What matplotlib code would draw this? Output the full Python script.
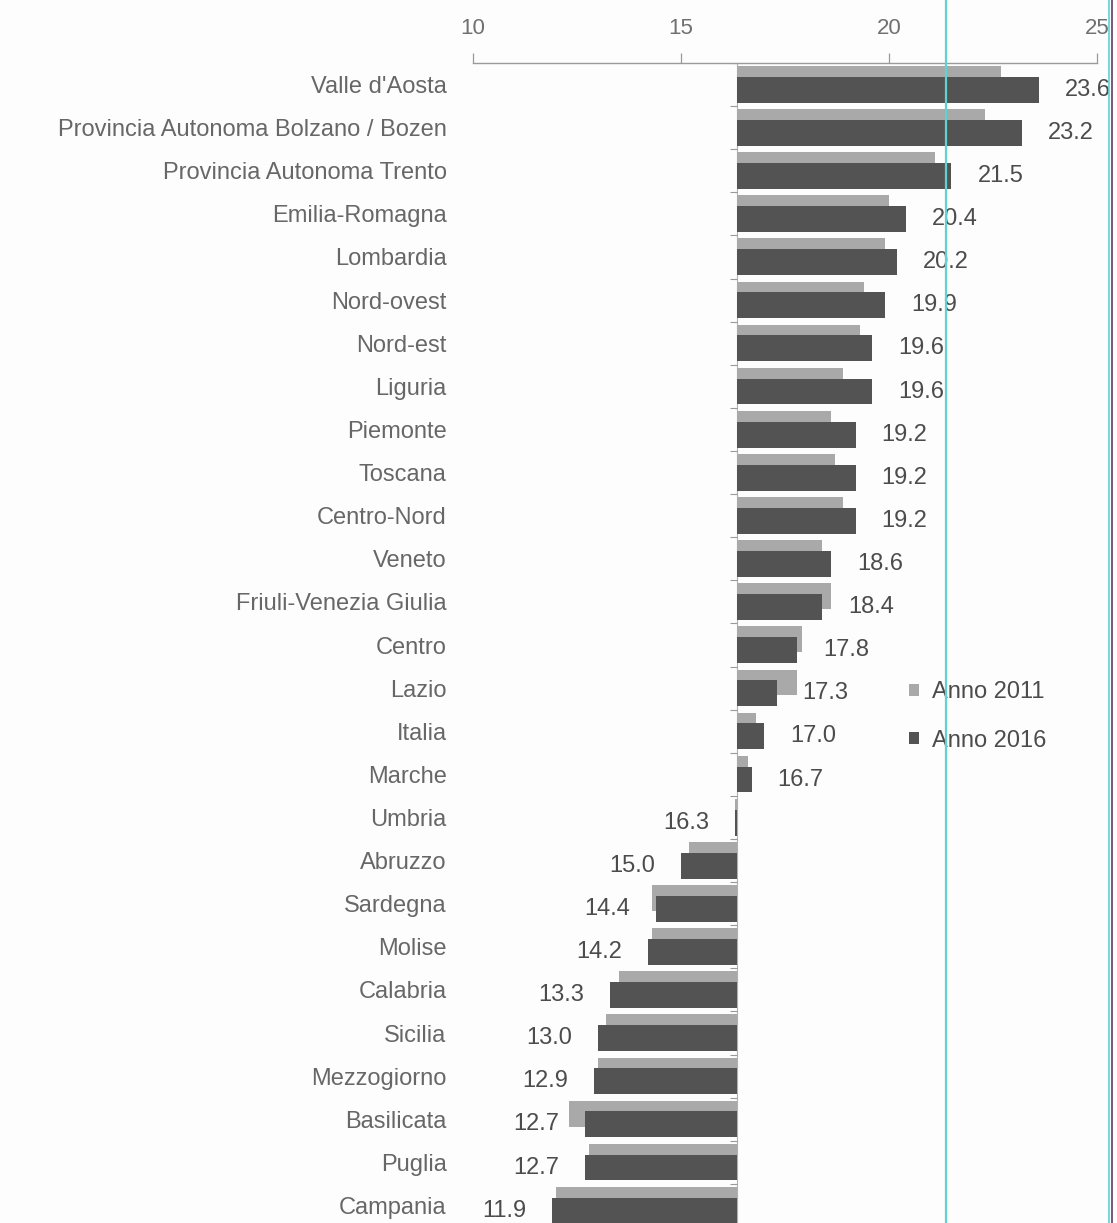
import matplotlib
matplotlib.use("Agg")
import matplotlib.pyplot as plt
from matplotlib.patches import Patch
from matplotlib.lines import Line2D
import numpy as np

categories = ["Valle d'Aosta", "Provincia Autonoma Bolzano / Bozen", "Provincia Autonoma Trento",
              "Emilia-Romagna", "Lombardia", "Nord-ovest", "Nord-est", "Liguria", "Piemonte",
              "Toscana", "Centro-Nord", "Veneto", "Friuli-Venezia Giulia", "Centro", "Lazio",
              "Italia", "Marche", "Umbria", "Abruzzo", "Sardegna", "Molise", "Calabria",
              "Sicilia", "Mezzogiorno", "Basilicata", "Puglia", "Campania"]
anno_2016 = [23.6, 23.2, 21.5, 20.4, 20.2, 19.9, 19.6, 19.6, 19.2, 19.2, 19.2, 18.6, 18.4,
             17.8, 17.3, 17.0, 16.7, 16.3, 15.0, 14.4, 14.2, 13.3, 13.0, 12.9, 12.7, 12.7, 11.9]
anno_2011 = [22.7, 22.3, 21.1, 20.0, 19.9, 19.4, 19.3, 18.9, 18.6, 18.7, 18.9, 18.4, 18.6,
             17.9, 17.8, 16.8, 16.6, 16.3, 15.2, 14.3, 14.3, 13.5, 13.2, 13.0, 12.3, 12.8, 12.0]
series_names = ["Anno 2011", "Anno 2016"]
x_ticks = [10, 15, 20, 25]
baseline = 16.35

plt.rcParams['font.family'] = ['Liberation Sans', 'DejaVu Sans']

W, H = 1117, 1223
fig = plt.figure(figsize=(W / 100, H / 100), dpi=100)
fig.patch.set_facecolor('#fdfdfd')
ax = fig.add_axes([473 / W, -0.0033, (1097 - 473) / W, 0.9518])
ax.set_facecolor('none')

light = '#a9a9a9'
dark = '#535353'
y = np.arange(len(categories))
v11 = np.array(anno_2011)
v16 = np.array(anno_2016)

ax.barh(y - 0.13, v11 - baseline, left=baseline, height=0.6, color=light, zorder=2)
ax.barh(y + 0.12, v16 - baseline, left=baseline, height=0.6, color=dark, zorder=3)

for yi, v in zip(y, v16):
    right = v >= baseline
    ax.annotate(f"{v:.1f}", (v, yi + 0.12), xytext=(26 if right else -26, 0),
                textcoords='offset pixels', ha='left' if right else 'right', va='center',
                fontsize=17, color='#4c4c4c', zorder=4, annotation_clip=False)

ax.set_xlim(x_ticks[0], x_ticks[-1])
ax.set_ylim(len(categories) - 0.5, -0.5)

ax.xaxis.tick_top()
ax.set_xticks(x_ticks)
ax.set_xticklabels([str(t) for t in x_ticks], fontsize=16, color='#707070')
ax.tick_params(axis='x', direction='out', length=7, width=0.9, color='#999999', pad=10)

ax.set_yticks(y)
ax.set_yticklabels(categories, fontsize=17, color='#676767')
ax.tick_params(axis='y', length=0, pad=19)

for s in ['left', 'right', 'bottom']:
    ax.spines[s].set_visible(False)
ax.spines['top'].set_color('#9a9a9a')
ax.spines['top'].set_linewidth(1.0)

ax.axvline(baseline, color='#b0b0b0', lw=0.8, zorder=1)
bounds = np.arange(len(categories) + 1) - 0.5
ax.hlines(bounds, baseline - 0.17, baseline, color='#999999', lw=0.8, zorder=1)

handles = [Patch(facecolor=light, edgecolor='none'), Patch(facecolor=dark, edgecolor='none')]
ax.legend(handles, series_names, loc='upper left', bbox_to_anchor=(0.699, 0.469),
          frameon=False, fontsize=17, handlelength=0.4, handleheight=0.4,
          handletextpad=0.55, labelspacing=1.12, borderpad=0, borderaxespad=0,
          labelcolor='#4c4c4c')

# scan border lines
fig.add_artist(Line2D([946 / W, 946 / W], [0, 1], transform=fig.transFigure, color='#5cd4d4', lw=1.6))
fig.add_artist(Line2D([1109 / W, 1109 / W], [0, 1], transform=fig.transFigure, color='#5cd4d4', lw=1.2))
fig.add_artist(Line2D([1112 / W, 1112 / W], [0, 1], transform=fig.transFigure, color='#5a3f66', lw=1.2))

fig.savefig('out.png', dpi=100)
